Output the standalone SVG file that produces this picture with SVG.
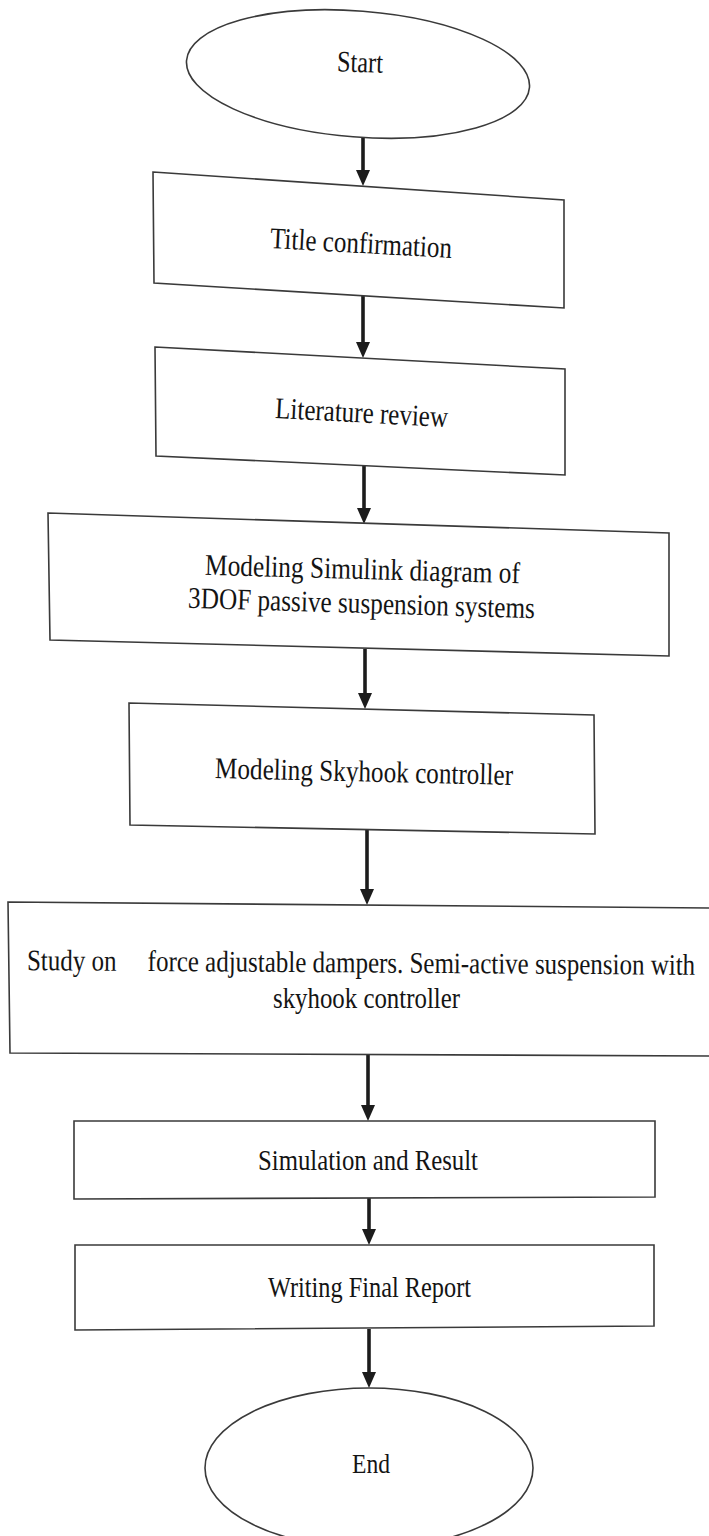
<svg xmlns="http://www.w3.org/2000/svg" width="709" height="1536" viewBox="0 0 709 1536">
  <style>
    .bg { fill: #ffffff; }
    .node { fill: #ffffff; stroke: #3a3a3a; stroke-width: 1.6; stroke-linejoin: miter; }
    .label { font-family: "Liberation Serif", "Times New Roman", serif; font-size: 30px; fill: #141414; text-anchor: middle; }
    .flow { stroke: #1c1c1c; stroke-width: 3.6; fill: none; }
  </style>
  <defs>
    <marker id="arrow" viewBox="0 0 16 14" refX="8" refY="7" markerWidth="16" markerHeight="14" markerUnits="userSpaceOnUse" orient="auto">
      <path d="M0,0 L16,7 L0,14 Z" fill="#1c1c1c"/>
    </marker>
  </defs>

  <rect class="bg" x="0" y="0" width="709" height="1536"/>

  <!-- connectors -->
  <g id="connectors">
    <line class="flow" x1="363" y1="138" x2="363" y2="178" marker-end="url(#arrow)"/>
    <line class="flow" x1="363" y1="296" x2="363" y2="350" marker-end="url(#arrow)"/>
    <line class="flow" x1="364" y1="466" x2="364" y2="516" marker-end="url(#arrow)"/>
    <line class="flow" x1="365" y1="649" x2="365" y2="701" marker-end="url(#arrow)"/>
    <line class="flow" x1="367" y1="830" x2="367" y2="897" marker-end="url(#arrow)"/>
    <line class="flow" x1="368" y1="1055" x2="368" y2="1113" marker-end="url(#arrow)"/>
    <line class="flow" x1="369" y1="1198" x2="369" y2="1237" marker-end="url(#arrow)"/>
    <line class="flow" x1="369" y1="1329" x2="369" y2="1380" marker-end="url(#arrow)"/>
  </g>

  <!-- start terminal -->
  <g id="start">
    <ellipse class="node" cx="358" cy="74" rx="172" ry="63" transform="rotate(4.5 358 74)"/>
    <text class="label" x="360" y="72" textLength="46" lengthAdjust="spacingAndGlyphs" transform="rotate(2 360 64)">Start</text>
  </g>

  <!-- process steps -->
  <g id="title-confirmation">
    <polygon class="node" points="153,172 564,200 564,308 154,283"/>
    <text class="label" x="361" y="253" textLength="182" lengthAdjust="spacingAndGlyphs" transform="rotate(3.1 361 245)">Title confirmation</text>
  </g>

  <g id="literature-review">
    <polygon class="node" points="155,347 565,369 565,475 156,456"/>
    <text class="label" x="361.5" y="422.5" textLength="173" lengthAdjust="spacingAndGlyphs" transform="rotate(3 361.5 415)">Literature review</text>
  </g>

  <g id="simulink-model">
    <polygon class="node" points="48,513 669,533 669,656 50,640"/>
    <text class="label" x="362.5" y="579" textLength="315" lengthAdjust="spacingAndGlyphs" transform="rotate(1.5 362.5 571)">Modeling Simulink diagram of</text>
    <text class="label" x="361.5" y="613" textLength="347" lengthAdjust="spacingAndGlyphs" transform="rotate(1.7 361.5 605)">3DOF passive suspension systems</text>
  </g>

  <g id="skyhook-model">
    <polygon class="node" points="129,703 594,715 595,834 130,825"/>
    <text class="label" x="364" y="781.5" textLength="298" lengthAdjust="spacingAndGlyphs" transform="rotate(1.3 364 773)">Modeling Skyhook controller</text>
  </g>

  <g id="damper-study">
    <polygon class="node" points="8,902 714,908 714,1056 10,1053"/>
    <!-- long line: condensed horizontally so its natural extent stays inside the page -->
    <text class="label" x="0" y="0" textLength="803" lengthAdjust="spacingAndGlyphs" style="white-space:pre" transform="translate(361 972.5) rotate(0.4) scale(0.832 1)">Study on     force adjustable dampers. Semi-active suspension with</text>
    <text class="label" x="366.5" y="1007.5" textLength="187" lengthAdjust="spacingAndGlyphs">skyhook controller</text>
  </g>

  <g id="simulation">
    <polygon class="node" points="74,1121 655,1121 655,1197 74,1199"/>
    <text class="label" x="368" y="1170" textLength="220" lengthAdjust="spacingAndGlyphs">Simulation and Result</text>
  </g>

  <g id="final-report">
    <polygon class="node" points="75,1245 654,1245 654,1326 75,1330"/>
    <text class="label" x="369.5" y="1297" textLength="203" lengthAdjust="spacingAndGlyphs">Writing Final Report</text>
  </g>

  <!-- end terminal -->
  <g id="end">
    <ellipse class="node" cx="369" cy="1468" rx="164" ry="80"/>
    <text class="label" x="371" y="1473" textLength="38" lengthAdjust="spacingAndGlyphs" style="font-size:28px">End</text>
  </g>
</svg>
